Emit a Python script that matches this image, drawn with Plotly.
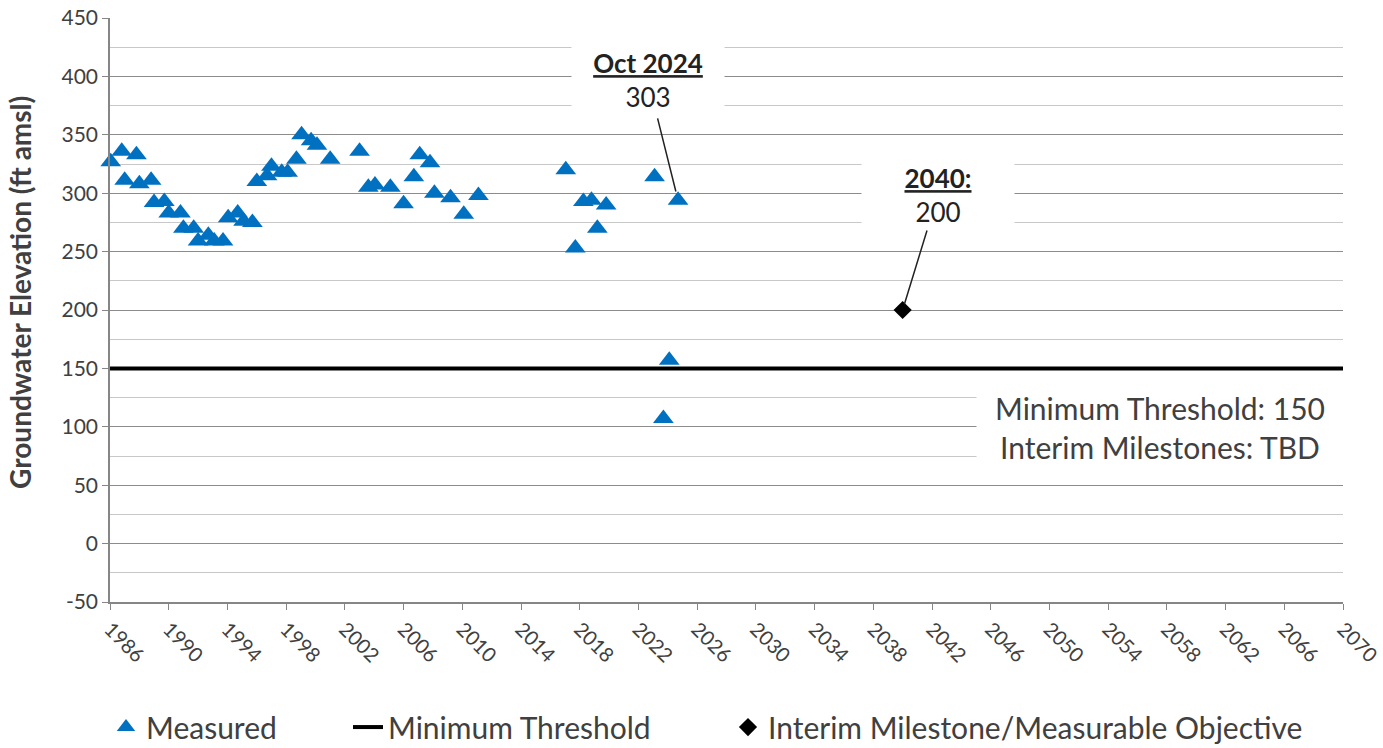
import plotly.graph_objects as go

# measured groundwater elevations (ft amsl)
measured_year = [
    1986.05, 1986.8, 1987.0, 1987.8, 1988.0, 1988.8, 1989.0, 1989.7,
    1990.0, 1990.8, 1991.0, 1991.7, 1992.0, 1992.7, 1993.1, 1993.7,
    1994.05, 1994.7, 1995.1, 1995.7, 1996.0, 1996.7, 1997.0, 1997.7,
    1998.1, 1998.7, 1999.05, 1999.7, 2000.1, 2001.0, 2003.0, 2003.6,
    2004.05, 2005.1, 2006.0, 2006.7, 2007.1, 2007.8, 2008.1, 2009.2,
    2010.1, 2011.1, 2017.05, 2017.7, 2018.25, 2018.8, 2019.2, 2019.8,
    2023.1, 2023.7, 2024.1, 2024.7,
]
measured_elev = [
    327, 336, 311, 333, 308, 311, 292, 293,
    283, 283, 270, 270, 259, 264, 259, 259,
    279, 283, 276, 275, 310, 315, 323, 318,
    318, 329, 350, 345, 341, 329, 336, 305,
    307, 305, 291, 314, 333, 326, 300, 296,
    282, 298, 320, 253, 293, 294, 270, 290,
    314, 107, 157, 294,
]

threshold_year = [1986, 2070]
threshold_elev = [150, 150]

milestone_year = [2040]
milestone_elev = [200]

x_ticks = list(range(1986, 2071, 4))
y_ticks = list(range(-50, 451, 50))
y_tick_labels = [str(v) for v in y_ticks]

FONT = "Lato"
TEXT = "#404040"
AXIS_GREY = "#868686"

fig = go.Figure()
fig.add_trace(go.Scatter(
    x=measured_year, y=measured_elev, mode="markers", name="Measured",
    marker=dict(symbol="triangle-up", size=18, color="#0070C0"),
    cliponaxis=False, legend="legend",
))
fig.add_trace(go.Scatter(
    x=threshold_year, y=threshold_elev, mode="lines", name="Minimum Threshold",
    line=dict(color="black", width=4), legend="legend2",
))
fig.add_trace(go.Scatter(
    x=milestone_year, y=milestone_elev, mode="markers",
    name="Interim Milestone/Measurable Objective",
    marker=dict(symbol="diamond", size=14, color="black"),
    legend="legend3",
))

annotations = [
    dict(
        x=measured_year[-1], y=measured_elev[-1], axref="x", ayref="y",
        ax=2022.65, ay=397,
        text="<b><u>Oct 2024</u></b><br>303",
        showarrow=True, arrowhead=0, arrowwidth=1.5, arrowcolor="#222",
        standoff=9, bgcolor="white", width=150, height=74,
        font=dict(family=FONT, size=26, color="#222"),
    ),
    dict(
        x=milestone_year[0], y=milestone_elev[0], axref="x", ayref="y",
        ax=2042.4, ay=298.5,
        text="<b><u>2040:</u></b><br>200",
        showarrow=True, arrowhead=0, arrowwidth=1.5, arrowcolor="#222",
        standoff=6, bgcolor="white", width=150, height=68,
        font=dict(family=FONT, size=26, color="#222"),
    ),
    dict(
        x=2057.5, y=99.5, xref="x", yref="y",
        text="Minimum Threshold: 150<br>Interim Milestones: TBD",
        showarrow=False, bgcolor="white", width=364, height=82,
        font=dict(family=FONT, size=30, color=TEXT),
    ),
    # y-axis title, placed as rotated text so it sits where the original does
    dict(
        x=-0.073, y=0.531, xref="paper", yref="paper",
        xanchor="center", yanchor="middle", textangle=-90,
        text="<b>Groundwater Elevation (ft amsl)</b>", showarrow=False,
        font=dict(family=FONT, size=28, color=TEXT),
    ),
]

legend_common = dict(
    orientation="h", xref="container", yref="container",
    xanchor="left", y=0.028, yanchor="middle",
    font=dict(family=FONT, size=30, color=TEXT), bgcolor="rgba(0,0,0,0)",
)

fig.update_layout(
    width=1383, height=748, autosize=False,
    margin=dict(l=110, r=40, t=18, b=146),
    plot_bgcolor="white", paper_bgcolor="white",
    font=dict(family=FONT, color=TEXT),
    showlegend=True,
    legend=dict(x=(148 - 42) / 1383, **legend_common),
    legend2=dict(x=(390 - 42) / 1383, **legend_common),
    legend3=dict(x=(770 - 42) / 1383, **legend_common),
    annotations=annotations,
)
fig.update_xaxes(
    range=[1986, 2070], tickvals=x_ticks, tickangle=45,
    showgrid=False, zeroline=False, automargin=False,
    showline=True, linecolor=AXIS_GREY, linewidth=1.5,
    ticks="outside", ticklen=6, tickcolor=AXIS_GREY,
    tickfont=dict(family=FONT, size=20, color=TEXT),
)
fig.update_yaxes(
    range=[-50, 450], tickvals=y_ticks, ticktext=y_tick_labels,
    showgrid=True, gridcolor="#8c8c8c", gridwidth=1.2, zeroline=False,
    minor=dict(dtick=25, tick0=0, showgrid=True, gridcolor="#c8c8c8", gridwidth=1),
    showline=True, linecolor=AXIS_GREY, linewidth=1.5, automargin=False,
    ticks="outside", ticklen=6, tickcolor=AXIS_GREY,
    tickfont=dict(family=FONT, size=21, color=TEXT),
)

fig.write_html("out.html", config={"displayModeBar": False},
               post_script="document.body.style.margin='0';")
